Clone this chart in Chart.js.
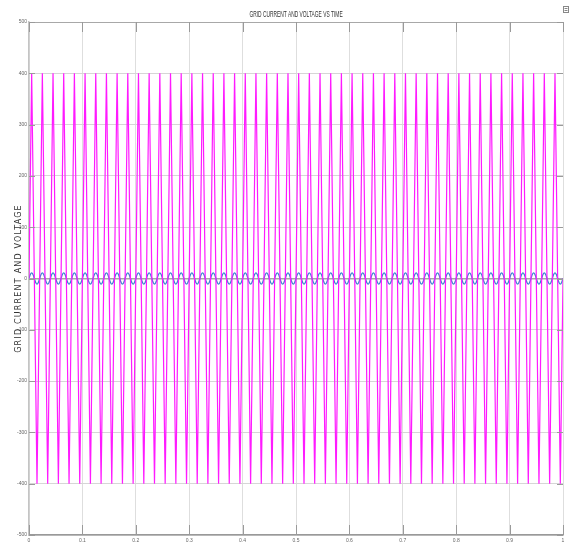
<!DOCTYPE html>
<html>
<head>
<meta charset="utf-8">
<script src="https://cdn.jsdelivr.net/npm/chart.js@4/dist/chart.umd.min.js"></script>
<style>
	html, body { margin: 0; padding: 0; background: #fff; }
	#wrap { width: 573px; height: 547px; position: relative; }
</style>
</head>
<body>
<div id="wrap"><canvas id="chart"></canvas></div>
<script>
// One cycle of each signal, repeated for the whole run.
const titleText = "GRID CURRENT AND VOLTAGE VS TIME";
const yAxisLabel = "GRID CURRENT AND VOLTAGE";
const xTicks = [0, 0.1, 0.2, 0.3, 0.4, 0.5, 0.6, 0.7, 0.8, 0.9, 1];
const yTicks = [500, 400, 300, 200, 100, 0, -100, -200, -300, -400, -500];
const period = 0.02;           // 50 Hz
const cycles = 50;
const voltageCycle = [0, 400, 0, -400];                       // peaks hit +/-400
const currentCycle = [0, 7.8, 11, 7.8, 0, -7.8, -11, -7.8];    // small sine around 0

function tile(cycle){
	const pts = [];
	const step = period / cycle.length;
	for (let c = 0; c < cycles; c++){
		cycle.forEach((v, i) => {
			pts.push({x: +(c * period + i * step).toFixed(5), y: v});
		});
	}
	pts.push({x: cycles * period, y: cycle[0]});
	return pts;
}

const voltage = tile(voltageCycle);
const current = tile(currentCycle);

// narrow title, spaced-out y label, short tick marks inside the box, little icon
const extras = {
	id: "extras",
	afterDraw(chart){
		const {ctx, chartArea: a, scales: {x, y}} = chart;
		ctx.save();
		ctx.strokeStyle = "#9a9a9a";
		ctx.lineWidth = 1;
		xTicks.forEach(v => {
			const px = Math.round(x.getPixelForValue(v)) + 0.5;
			ctx.beginPath();
			ctx.moveTo(px, a.bottom); ctx.lineTo(px, a.bottom - 10);
			ctx.moveTo(px, a.top); ctx.lineTo(px, a.top + 10);
			ctx.stroke();
		});
		yTicks.forEach(v => {
			const py = Math.round(y.getPixelForValue(v)) + 0.5;
			ctx.beginPath();
			ctx.moveTo(a.left, py); ctx.lineTo(a.left + 6, py);
			ctx.moveTo(a.right, py); ctx.lineTo(a.right - 6, py);
			ctx.stroke();
		});
		ctx.strokeStyle = "#888";
		ctx.strokeRect(563.5, 6.5, 5, 6);
		ctx.beginPath();
		ctx.moveTo(564.5, 8.5); ctx.lineTo(567.5, 8.5);
		ctx.moveTo(564.5, 10.5); ctx.lineTo(567.5, 10.5);
		ctx.stroke();

		// title
		ctx.fillStyle = "#333";
		ctx.textAlign = "center";
		ctx.textBaseline = "middle";
		ctx.font = "9px 'Liberation Sans', Arial, sans-serif";
		ctx.translate((a.left + a.right) / 2, 15);
		ctx.scale(0.54, 1);
		ctx.fillText(titleText, 0, 0);
		ctx.setTransform(1, 0, 0, 1, 0, 0);

		// y axis label
		ctx.font = "8px 'DejaVu Sans', sans-serif";
		ctx.letterSpacing = "1.2px";
		ctx.translate(18.5, (a.top + a.bottom) / 2);
		ctx.rotate(-Math.PI / 2);
		ctx.fillText(yAxisLabel, 0, 0);
		ctx.restore();
	}
};

new Chart(document.getElementById("chart"), {
	type: "line",
	data: {
		datasets: [
			{
				label: "Voltage",
				data: voltage,
				borderColor: "#ff1aff",
				borderWidth: 1.2,
				pointRadius: 0,
				tension: 0,
			},
			{
				label: "Current",
				data: current,
				borderColor: "#3a86d0",
				borderWidth: 1.3,
				pointRadius: 0,
				tension: 0.4,
			},
		],
	},
	options: {
		responsive: true,
		maintainAspectRatio: false,
		animation: false,
		layout: { padding: { left: 0, right: 10, top: 22, bottom: 0 } },
		plugins: {
			legend: { display: false },
			tooltip: { enabled: false },
			title: { display: false },
		},
		scales: {
			x: {
				type: "linear",
				min: 0,
				max: 1,
				afterFit: s => { s.height = 12; },
				afterBuildTicks: s => { s.ticks = xTicks.map(v => ({value: v})); },
				grid: { color: "#dedede", drawTicks: false },
				border: { color: "#999", width: 1.5 },
				ticks: {
					padding: 3,
					color: "#666",
					font: { family: "'Liberation Sans', Arial", size: 5 },
					maxRotation: 0,
					callback: v => String(v),
				},
			},
			y: {
				min: -500,
				max: 500,
				afterFit: s => { s.width = 29; },
				afterBuildTicks: s => { s.ticks = yTicks.map(v => ({value: v})); },
				grid: {
					color: ctx => (ctx.tick && (ctx.tick.value === 0 || ctx.tick.value === 500)) ? "#a8a8a8" : "#d6d6d6",
					lineWidth: ctx => (ctx.tick && ctx.tick.value === 0) ? 1.5 : 1,
					drawTicks: false,
				},
				border: { color: "#c4c4c4", width: 1.5 },
				ticks: {
					padding: 2,
					color: "#666",
					font: { family: "'Liberation Sans', Arial", size: 5 },
					callback: v => String(v),
				},
			},
		},
	},
	plugins: [extras],
});
</script>
</body>
</html>
